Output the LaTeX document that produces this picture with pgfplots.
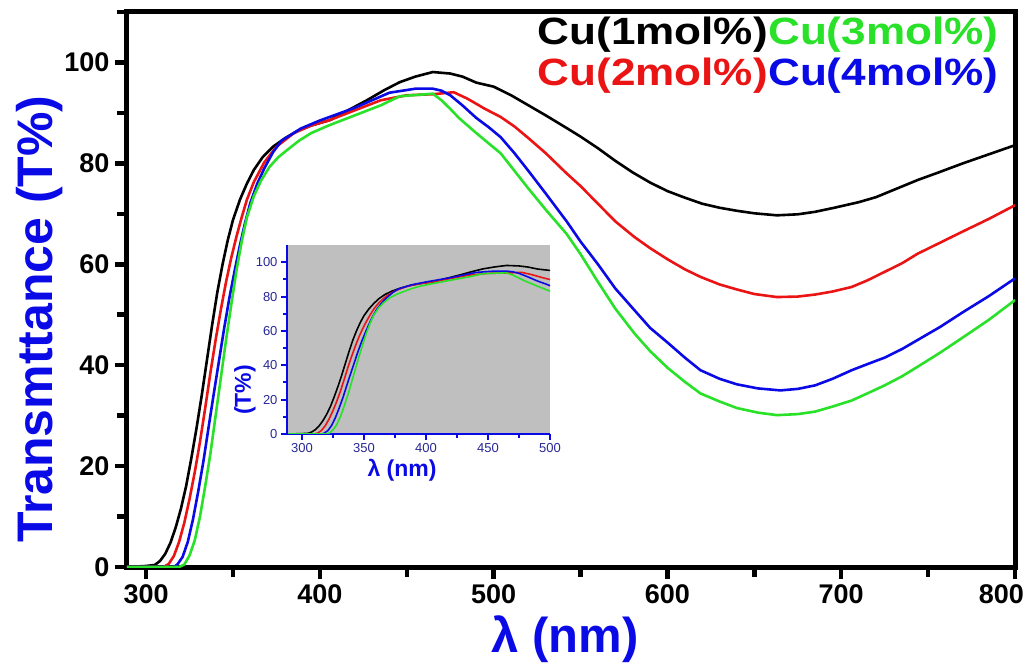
\documentclass[border=0pt]{standalone}
\usepackage{fontspec}
\setmainfont{Liberation Sans}
\usepackage{graphicx}
\usepackage{pgfplots}
\pgfplotsset{compat=1.18}
\usepackage{pgfplotstable}
\definecolor{cgreen}{RGB}{40,225,40}
\definecolor{cblue}{RGB}{10,10,230}
\definecolor{cred}{RGB}{235,20,20}
\definecolor{navy}{RGB}{40,40,150}

\pgfplotstableread{
x y
289 0
300 0.2
305 0.4
308 1.2
311 2.6
314 4.8
317 7.8
320 11.5
323 16
326 21.5
329 27.5
332 34
335 41
338 48
341 54.5
344 60
347 64.8
350 68.8
354 72.8
358 76
362 78.7
367 81.2
373 83.3
380 85
387 86.4
395 87.5
406 88.6
415 90.3
427 92.5
437 94.5
446 96.1
455 97.2
465 98.1
475 97.8
482 97.2
490 96
500 95.2
510 93.5
520 91.5
530 89.5
542 87
550 85.3
560 83
570 80.5
580 78.2
590 76.2
600 74.5
610 73.2
620 72
630 71.2
640 70.6
650 70.1
663 69.7
675 69.9
685 70.4
696 71.2
710 72.3
720 73.3
732 75
744 76.7
756 78.2
770 80
785 81.8
800 83.6
}\blackdata

\pgfplotstableread{
x y
289 0
310 0
313 0.6
316 2.2
319 5
322 8.8
325 13.5
328 18.8
331 24.8
334 31.5
337 38.5
340 45
343 51
346 56.5
349 61.3
352 65.5
355 69.3
358 72.8
362 76.3
368 80.2
375 83.3
385 86
395 87.5
405 88.5
420 90.5
435 92.5
450 93.5
465 93.7
477 94.1
485 92.8
495 90.8
504 89.2
512 87.3
520 85
530 82
542 78
550 75.5
560 72
570 68.5
581 65.4
590 63.2
600 61
610 59
619 57.5
630 56
640 55
650 54.1
663 53.5
675 53.6
685 54
695 54.6
706 55.5
715 56.8
725 58.5
735 60.2
744 62.1
757 64.3
770 66.5
785 69
800 71.7
}\reddata

\pgfplotstableread{
x y
289 0
316 0
318 0.5
321 2
324 5
327 9.5
330 15
333 21
336 27.8
339 34.5
342 41
345 47.5
348 53.5
351 58.8
354 63.8
357 68.3
360 72.2
364 76
368 79
373 82.2
378 84.5
389 86.9
400 88.5
420 91
440 94
455 94.8
465 94.8
470 94.4
475 93.5
482 91.5
490 89
497 87.2
504 85.2
512 82
520 78.5
530 74
542 68.5
550 64.5
560 60
570 55.2
581 50.9
590 47.4
600 44.5
610 41.5
619 39
630 37.3
640 36.2
652 35.4
665 35
675 35.3
685 36
695 37.3
706 39
715 40.2
725 41.5
735 43.2
744 45
757 47.6
770 50.5
785 53.7
800 57.2
}\bluedata

\pgfplotstableread{
x y
289 0
319 0
322 0.5
325 2.3
328 5.3
331 10
334 16
337 22.5
340 30
343 37.5
346 45
349 52
352 58.8
355 64.5
358 69.3
362 73.5
366 76.5
371 79.3
376 81.2
381 82.6
388 84.5
395 86
405 87.5
420 89.5
435 91.5
446 93.3
465 93.8
470 92.5
475 90.8
480 89
490 86
497 84
504 82
512 78.5
520 75
530 70.8
542 66
550 62
560 56.5
570 51.2
581 46.3
590 42.8
600 39.5
610 36.7
619 34.4
630 32.8
640 31.5
652 30.6
663 30.1
675 30.3
685 30.8
695 31.8
706 33
715 34.4
725 36
735 37.8
744 39.7
757 42.5
770 45.5
785 49
800 52.9
}\greendata

\begin{document}
\begin{tikzpicture}
\useasboundingbox (-127pt,-99pt) rectangle (900pt,567pt);
\begin{axis}[
  at={(0pt,0pt)}, anchor=south west,
  scale only axis, width=888pt, height=555pt,
  xmin=289, xmax=800, ymin=0, ymax=110,
  xtick={300,400,...,800}, minor xtick={350,450,...,750},
  xticklabels={300,400,500,600,700,\makebox[18pt][r]{800}},
  ytick={0,20,...,100}, minor ytick={10,30,...,110},
  tick align=outside, tick pos=left,
  major tick length=12pt, minor tick length=10pt,
  major tick style={line width=4.5pt, black},
  minor tick style={line width=4.5pt, black},
  axis line style={line width=5pt, line join=miter},
  ticklabel style={font=\bfseries\fontsize{27}{30}\selectfont},
  /pgf/number format/assume math mode=true,
  xticklabel style={yshift=-2pt},
  yticklabel style={xshift=-2pt},
  clip=true,
]
\addplot[black, line width=2.6pt] table {\blackdata};
\addplot[cred, line width=2.6pt] table {\reddata};
\addplot[cblue, line width=2.6pt] table {\bluedata};
\addplot[cgreen, line width=2.6pt] table {\greendata};
\end{axis}

\node[rotate=90, text=cblue, font=\bfseries\fontsize{50}{52}\selectfont] at (-87pt,248pt) {Transmttance (T\%)};
\node[text=cblue, font=\bfseries\fontsize{49}{52}\selectfont] at (438pt,-72pt) {λ (nm)};

\node[anchor=east, inner sep=0pt, font=\bfseries\fontsize{38}{40}\selectfont] at (641pt,532pt) {\scalebox{1.16}[1]{Cu(1mol\%)}};
\node[anchor=west, inner sep=0pt, text=cgreen, font=\bfseries\fontsize{38}{40}\selectfont] at (641pt,532pt) {\scalebox{1.16}[1]{Cu(3mol\%)}};
\node[anchor=east, inner sep=0pt, text=cred, font=\bfseries\fontsize{38}{40}\selectfont] at (641pt,491pt) {\scalebox{1.16}[1]{Cu(2mol\%)}};
\node[anchor=west, inner sep=0pt, text=cblue, font=\bfseries\fontsize{38}{40}\selectfont] at (641pt,491pt) {\scalebox{1.16}[1]{Cu(4mol\%)}};

\begin{axis}[
  at={(160pt,133pt)}, anchor=south west,
  scale only axis, width=263pt, height=189pt,
  xmin=288, xmax=500, ymin=0, ymax=110,
  axis background/.style={fill=gray!50},
  axis x line*=bottom, axis y line*=left,
  axis line style={cblue, line width=2.5pt},
  xtick={300,350,...,500}, minor xtick={325,375,...,475},
  ytick={0,20,...,100}, minor ytick={10,30,...,90},
  tick align=outside,
  major tick length=6pt, minor tick length=4pt,
  major tick style={line width=2pt, cblue},
  minor tick style={line width=2pt, cblue},
  ticklabel style={font=\fontsize{13}{14}\selectfont, text=navy},
  /pgf/number format/assume math mode=true,
  clip=true,
]
\addplot[black, line width=1.6pt] table {\blackdata};
\addplot[cred, line width=1.6pt] table {\reddata};
\addplot[cblue, line width=1.6pt] table {\bluedata};
\addplot[cgreen, line width=1.6pt] table {\greendata};
\end{axis}
\node[rotate=90, text=cblue, font=\bfseries\fontsize{23}{25}\selectfont] at (118pt,177pt) {(T\%)};
\node[text=cblue, font=\bfseries\fontsize{23}{25}\selectfont] at (275pt,97pt) {λ (nm)};
\end{tikzpicture}
\end{document}
